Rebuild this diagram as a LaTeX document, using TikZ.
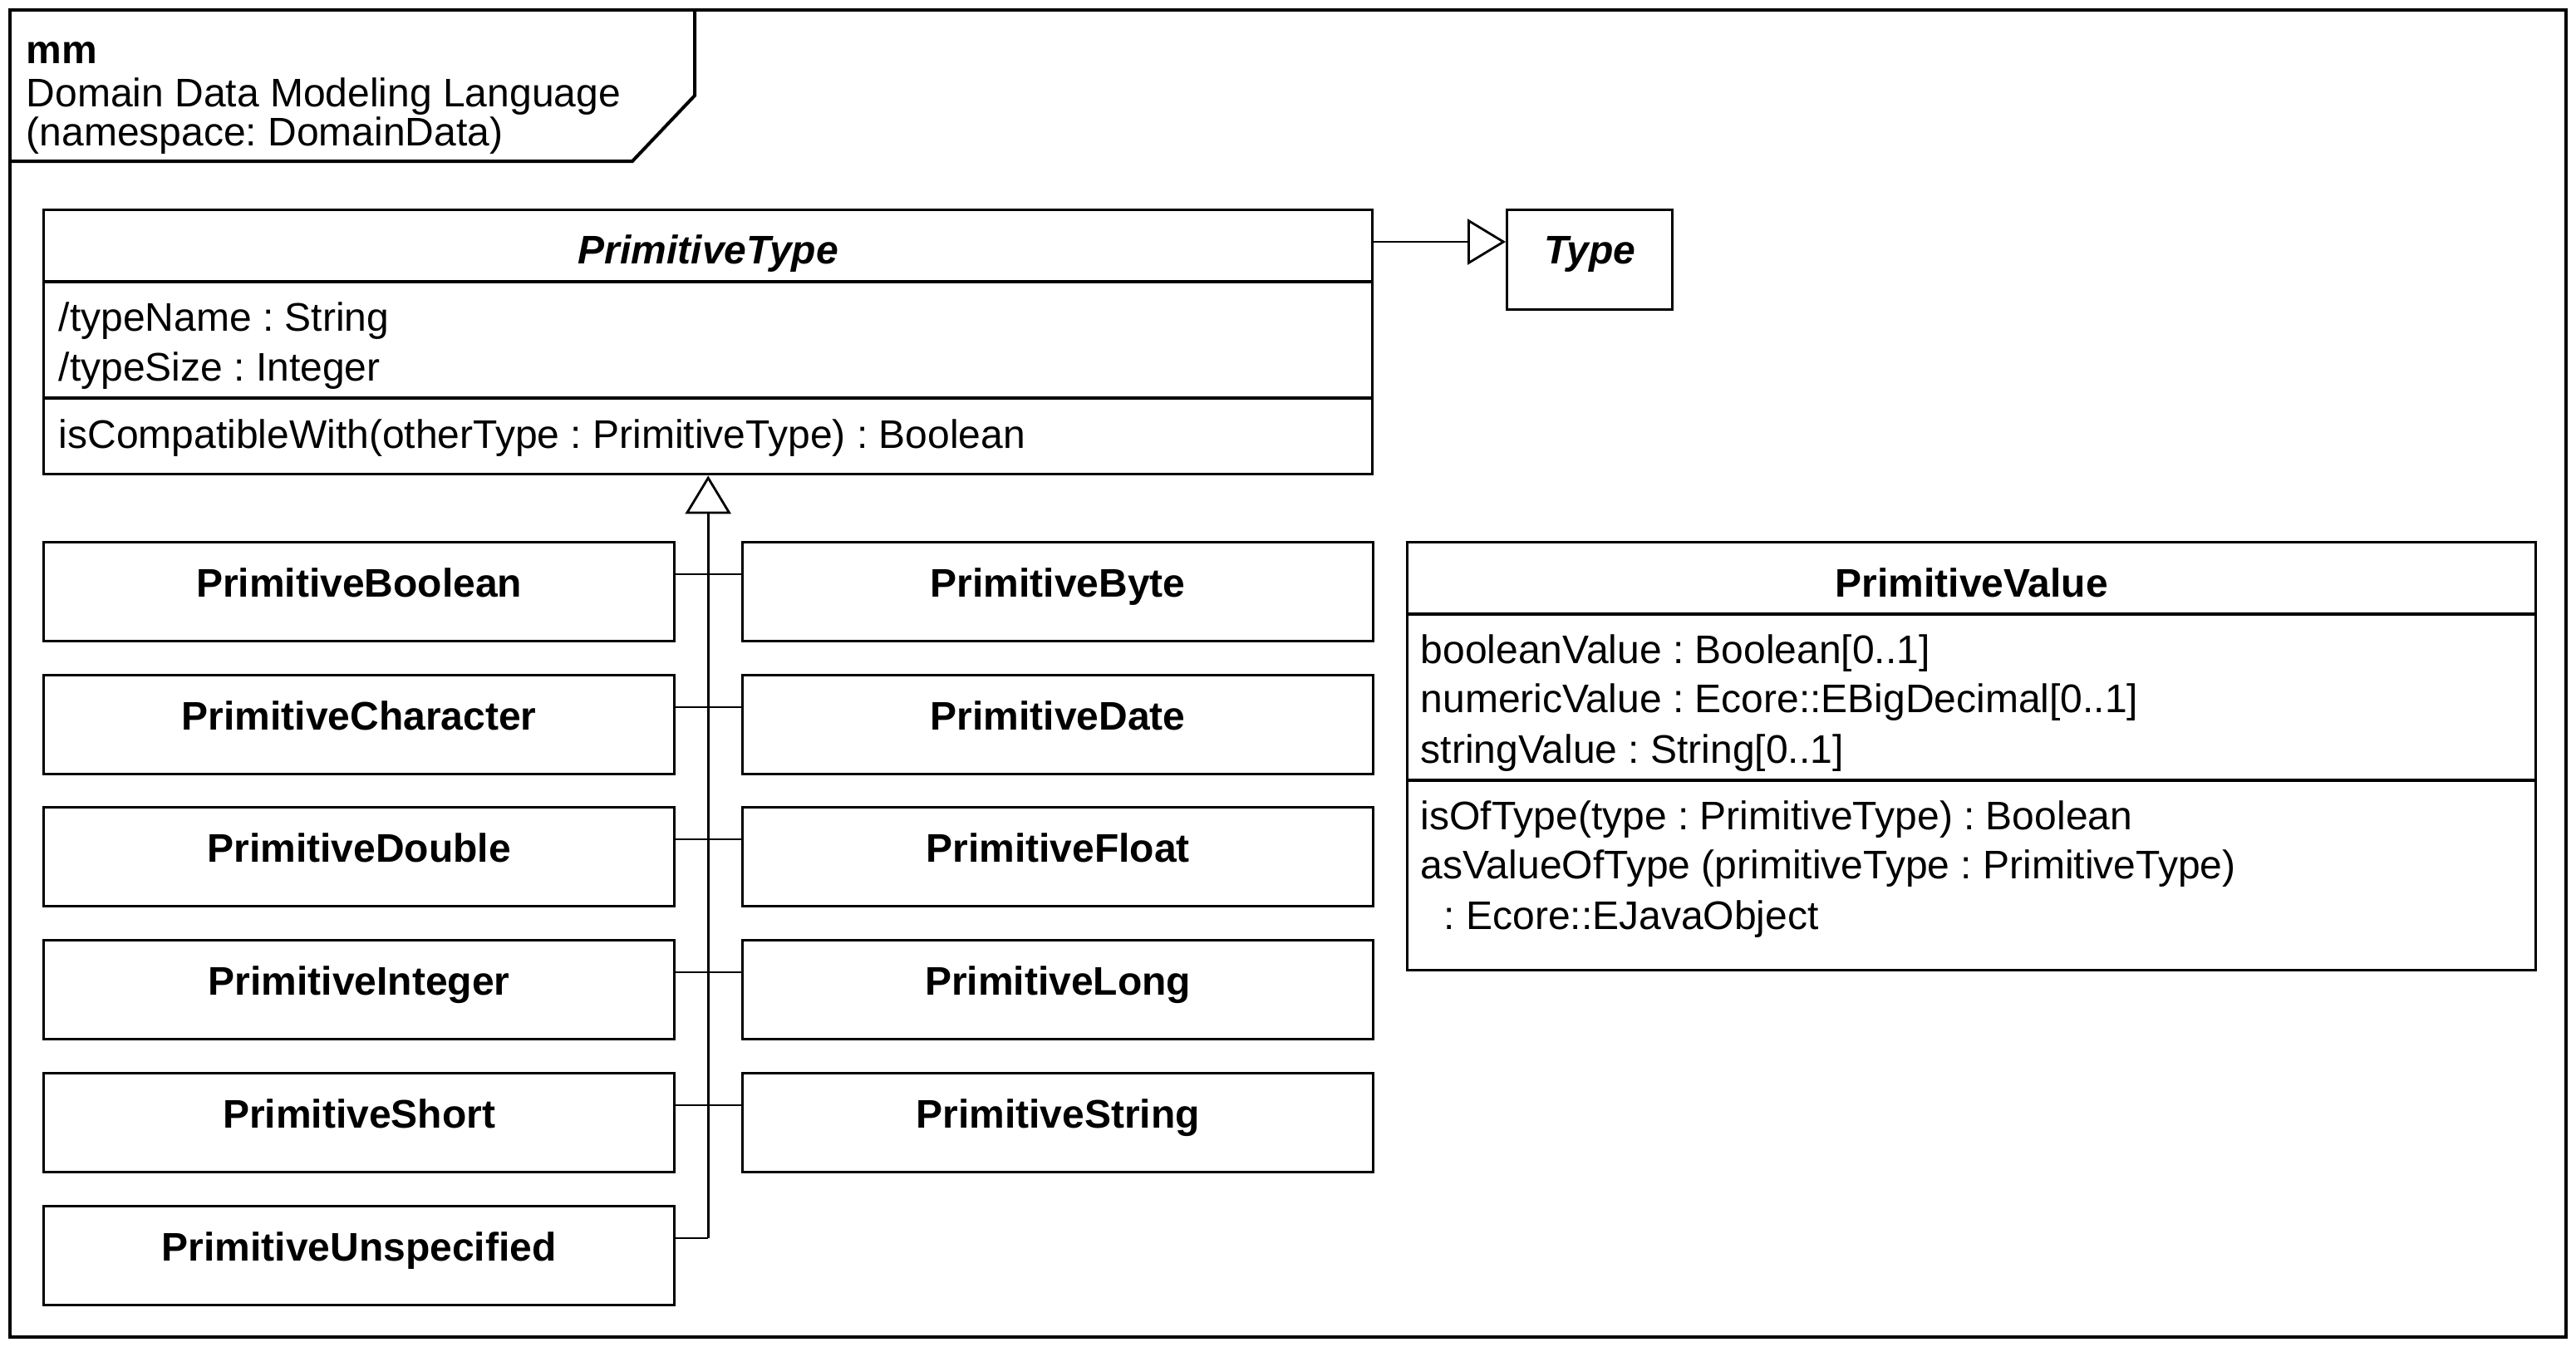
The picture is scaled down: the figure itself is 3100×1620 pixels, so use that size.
\documentclass[tikz,border=0pt]{standalone}
\usepackage{fontspec}
\setmainfont{Liberation Sans}
\usetikzlibrary{arrows.meta,calc}
\newcommand\fsz{\fontsize{12pt}{15pt}\selectfont\frenchspacing}
\begin{document}
\frenchspacing
\begin{tikzpicture}[x=0.25pt,y=-0.25pt,
  box/.style={draw, line width=0.85pt, rectangle, inner sep=0pt, anchor=north west},
  ttl/.style={font=\fsz\bfseries, anchor=base, inner sep=0pt},
  ittl/.style={font=\fsz\bfseries\itshape, anchor=base, inner sep=0pt},
  txt/.style={font=\fsz, anchor=base west, inner sep=0pt},
  hdr/.style={font=\fsz, anchor=base west, inner sep=0pt},
  conn/.style={line width=0.7pt},
  gen/.style={line width=0.7pt, -{Triangle[open,fill=white,width=13.75pt,length=11.5pt]}},
  frm/.style={line width=1pt}]
\useasboundingbox (0,0) rectangle (3100,1620);
% frame
\draw[frm] (12,12) rectangle (3088,1609);
\draw[frm] (12,194) -- (761,194) -- (836,115) -- (836,12);
\node[hdr, font=\fsz\bfseries] (h1) at (31,76) {mm};
\node[hdr] (h2) at (31,128) {Domain Data Modeling Language};
\node[hdr] (h3) at (31,175) {(namespace: DomainData)};
% PrimitiveType
\node[box, minimum width=1599*0.25pt, minimum height=318*0.25pt] (pt) at (51,251) {};
\node[ittl] (ptt) at ($(pt.north)+(0,66)$) {PrimitiveType};
\draw[line width=0.85pt] ($(pt.north west)+(0,88)$) -- ($(pt.north east)+(0,88)$);
\draw[line width=0.85pt] ($(pt.north west)+(0,228)$) -- ($(pt.north east)+(0,228)$);
\node[txt] (pta1) at (70,398) {/typeName : String};
\node[txt] (pta2) at (70,458) {/typeSize : Integer};
\node[txt] (pto1) at (70,539) {isCompatibleWith(otherType : PrimitiveType) : Boolean};
% Type
\node[box, minimum width=199*0.25pt, minimum height=120*0.25pt] (type) at (1812,251) {};
\node[ittl] (typet) at ($(type.north)+(0,66)$) {Type};
% PrimitiveValue
\node[box, minimum width=1358*0.25pt, minimum height=515*0.25pt] (pv) at (1692,651) {};
\node[ttl] (pvt) at ($(pv.north)+(0,67)$) {PrimitiveValue};
\draw[line width=0.85pt] ($(pv.north west)+(0,88)$) -- ($(pv.north east)+(0,88)$);
\draw[line width=0.85pt] ($(pv.north west)+(0,288)$) -- ($(pv.north east)+(0,288)$);
\node[txt] (pva1) at (1709,798) {booleanValue : Boolean[0..1]};
\node[txt] (pva2) at (1709,857) {numericValue : Ecore::EBigDecimal[0..1]};
\node[txt] (pva3) at (1709,918) {stringValue : String[0..1]};
\node[txt] (pvo1) at (1709,998) {isOfType(type : PrimitiveType) : Boolean};
\node[txt] (pvo2) at (1709,1057) {asValueOfType (primitiveType : PrimitiveType)};
\node[txt] (pvo3) at (1737,1118) {: Ecore::EJavaObject};
% subclasses
\foreach \nm/\x/\y/\lab in {
  bool/51/651/PrimitiveBoolean, byte/892/651/PrimitiveByte,
  char/51/811/PrimitiveCharacter, date/892/811/PrimitiveDate,
  dbl/51/970/PrimitiveDouble, flt/892/970/PrimitiveFloat,
  int/51/1130/PrimitiveInteger, lng/892/1130/PrimitiveLong,
  shrt/51/1290/PrimitiveShort, str/892/1290/PrimitiveString,
  unsp/51/1450/PrimitiveUnspecified} {
  \node[box, minimum width=759*0.25pt, minimum height=119*0.25pt] (\nm) at (\x,\y) {};
  \node[ttl] (\nm t) at ($(\nm.north)+(0,67)$) {\lab};
}
% generalizations
\draw[gen] ($(pt.north east)+(0,40)$) -- ($(type.north west)+(0,40)$);
\foreach \a/\b in {bool/byte, char/date, dbl/flt, int/lng, shrt/str} {
  \draw[conn] ($(\a.north east)+(0,40)$) -- ($(\b.north west)+(0,40)$);
}
\coordinate (tb) at ($(pt.south |- unsp.north)+(0,40)$);
\draw[conn] ($(unsp.north east)+(0,40)$) -- (tb);
\draw[gen] (tb) -- (pt.south);
\end{tikzpicture}
\end{document}
